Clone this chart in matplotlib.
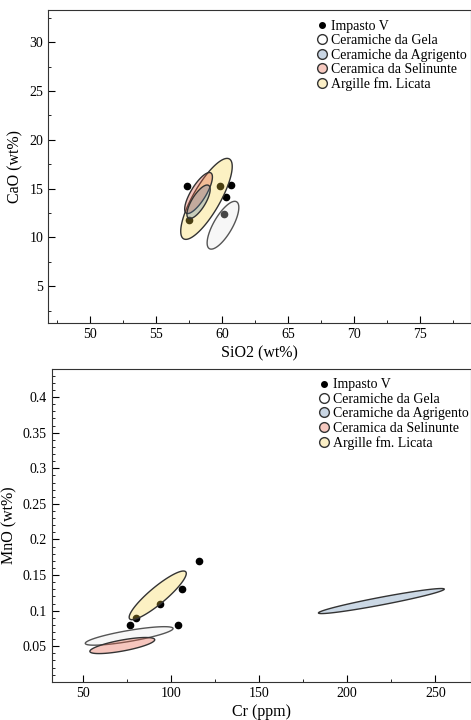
import numpy as np
import matplotlib
matplotlib.use("Agg")
import matplotlib.pyplot as plt
from matplotlib.lines import Line2D
from matplotlib.ticker import MultipleLocator

plt.rcParams["font.family"] = ["Liberation Serif", "DejaVu Serif"]

# Impasto V samples
sio2 = [57.35, 57.45, 59.8, 60.65, 60.25, 60.1]
cao = [15.25, 11.8, 15.3, 15.4, 14.1, 12.4]
cr = [116, 106, 94, 80, 77, 104]
mno = [0.17, 0.13, 0.11, 0.09, 0.08, 0.08]

groups = ["Ceramiche da Gela", "Ceramiche da Agrigento",
          "Ceramica da Selinunte", "Argille fm. Licata"]

# confidence ellipses: centre, half extent along x and y, correlation
ca_cx = [60.05, 58.2, 58.2, 58.8]
ca_cy = [11.25, 13.65, 14.55, 13.95]
ca_hx = [1.2, 0.88, 1.05, 1.95]
ca_hy = [2.45, 1.72, 2.1, 4.15]
ca_rho = [0.74, 0.74, 0.78, 0.8]

mn_cx = [76.3, 219.4, 72.4, 92.5]
mn_cy = [0.0645, 0.1135, 0.051, 0.1215]
mn_hx = [24.9, 35.7, 18.4, 16.2]
mn_hy = [0.013, 0.0176, 0.0113, 0.0342]
mn_rho = [0.8, 0.95, 0.72, 0.9]

fills = [(0.9, 0.9, 0.9, 0.3), (0.33, 0.5, 0.67, 0.3),
         (0.9, 0.37, 0.27, 0.35), (0.97, 0.82, 0.23, 0.3)]
edges = ["#555555", "#333333", "#333333", "#333333"]
swatch = ["#ffffff", "#c9d6e4", "#f6c9c0", "#fbefc6"]
draw_order = [3, 0, 2, 1]


def ellipse_xy(cx, cy, hx, hy, rho, n=200):
    t = np.linspace(0, 2 * np.pi, n)
    x = cx + hx * np.cos(t)
    y = cy + hy * (rho * np.cos(t) + np.sqrt(1 - rho ** 2) * np.sin(t))
    return x, y


def panel(ax, xs, ys, cx, cy, hx, hy, rho):
    ax.plot(xs, ys, "o", color="black", markersize=4.5, zorder=2)
    for i in draw_order:
        ex, ey = ellipse_xy(cx[i], cy[i], hx[i], hy[i], rho[i])
        ax.fill(ex, ey, facecolor=fills[i], edgecolor=edges[i],
                linewidth=1.0, zorder=3)
    handles = [Line2D([], [], marker="o", ls="", color="black", markersize=4)]
    labels = ["Impasto V"]
    for i, g in enumerate(groups):
        handles.append(Line2D([], [], marker="o", ls="", markerfacecolor=swatch[i],
                              markeredgecolor="#333333", markersize=7))
        labels.append(g)
    ax.legend(handles, labels, loc="upper left", bbox_to_anchor=(0.61, 1.0),
              frameon=False, fontsize=10, handletextpad=0.15, labelspacing=0.1,
              borderaxespad=0.3, handlelength=1.0)
    ax.tick_params(which="both", direction="in", labelsize=10)
    ax.tick_params(which="major", length=5)
    ax.tick_params(which="minor", length=2.5)
    for s in ax.spines.values():
        s.set_color("#333333")


fig = plt.figure(figsize=(4.71, 7.2), dpi=100)

ax1 = fig.add_axes([0.102, 0.551, 0.897, 0.435])
panel(ax1, sio2, cao, ca_cx, ca_cy, ca_hx, ca_hy, ca_rho)
ax1.set_xlim(46.8, 78.8)
ax1.set_ylim(1.2, 33.3)
ax1.xaxis.set_major_locator(MultipleLocator(5))
ax1.xaxis.set_minor_locator(MultipleLocator(2.5))
ax1.yaxis.set_major_locator(MultipleLocator(5))
ax1.yaxis.set_minor_locator(MultipleLocator(2.5))
ax1.set_xlabel("SiO2 (wt%)", fontsize=11.5, labelpad=3)
ax1.set_ylabel("CaO (wt%)", fontsize=11.5, labelpad=4)

ax2 = fig.add_axes([0.110, 0.053, 0.889, 0.435])
panel(ax2, cr, mno, mn_cx, mn_cy, mn_hx, mn_hy, mn_rho)
ax2.set_xlim(32.4, 270)
ax2.set_ylim(0.0, 0.44)
ax2.xaxis.set_major_locator(MultipleLocator(50))
ax2.xaxis.set_minor_locator(MultipleLocator(25))
ax2.yaxis.set_major_locator(MultipleLocator(0.05))
ax2.yaxis.set_minor_locator(MultipleLocator(0.01))
ax2.set_yticks([0.05, 0.1, 0.15, 0.2, 0.25, 0.3, 0.35, 0.4])
ax2.set_yticklabels(["0.05", "0.1", "0.15", "0.2", "0.25", "0.3", "0.35", "0.4"])
ax2.set_xlabel("Cr (ppm)", fontsize=11.5, labelpad=3)
ax2.set_ylabel("MnO (wt%)", fontsize=11.5, labelpad=4)

fig.savefig("out.png", dpi=100)
